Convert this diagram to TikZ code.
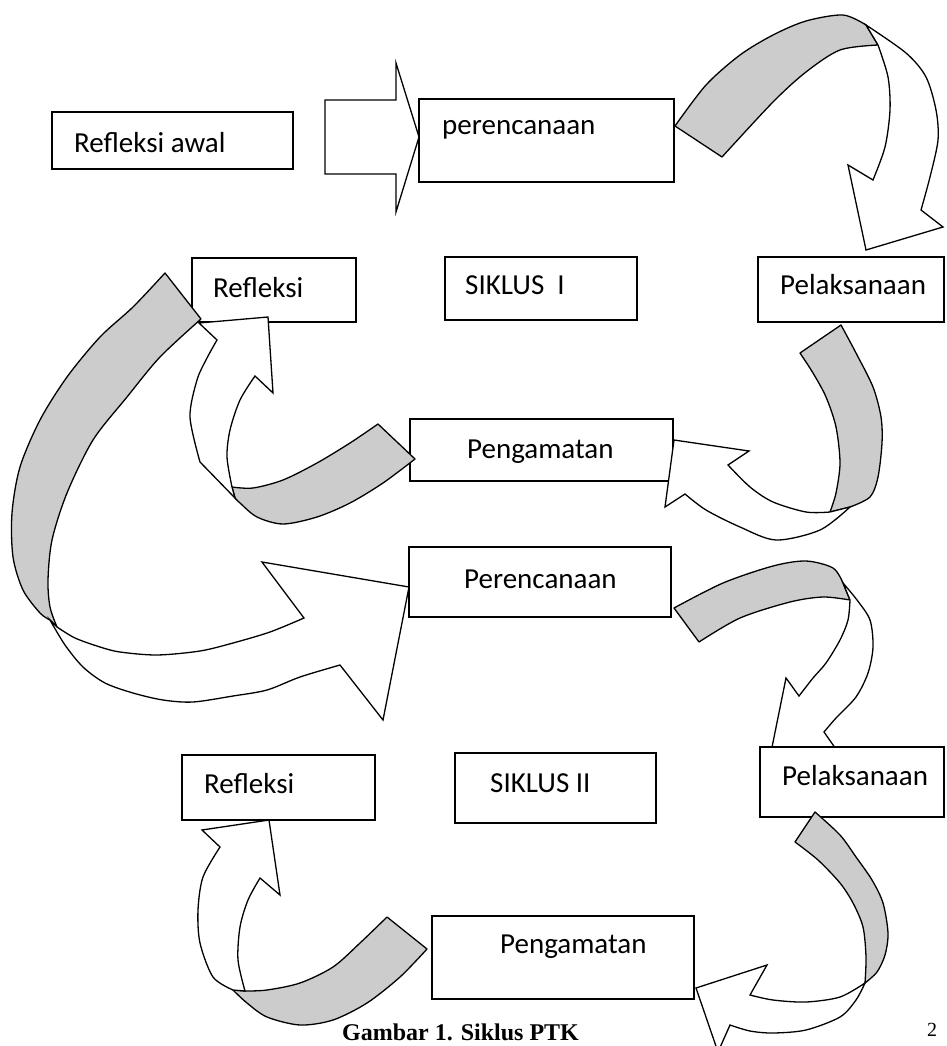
\documentclass[tikz,border=0pt]{standalone}
\usepackage{fontspec}
\newfontfamily\carl{Carlito}
\newfontfamily\capfont{Liberation Serif}
\definecolor{bandgray}{RGB}{204,204,204}
\begin{document}
\begin{tikzpicture}[x=1pt,y=-1pt,
  box/.style={draw, line width=1.3pt, fill=white, inner sep=0pt, outer sep=0pt, anchor=north west},
  lbl/.style={anchor=base west, inner sep=0pt, font=\carl\fontsize{29pt}{34pt}\selectfont},
  band/.style={draw, fill=bandgray, line width=1.3pt, line join=round},
  ribbon/.style={draw, fill=white, line width=1.3pt, line join=miter},
  captxt/.style={anchor=base west, inner sep=0pt, font=\capfont\bfseries\fontsize{24pt}{28pt}\selectfont}]
\clip (0,0) rectangle (946,1046);
\fill[white] (0,0) rectangle (946,1046);

% arrow 5 (under the Pelaksanaan II box)
\draw[band] (674,608) -- plot[smooth] coordinates {(699,642) (740,618) (790,602) (823,597) (850,600)} -- (843,583) -- plot[smooth] coordinates {(843,583) (833,568) (806,561) (773,566) (723,583) (674,608)} -- cycle;
\draw[ribbon] plot[smooth] coordinates {(843,583) (857,600) (870,620) (873,647) (868,673) (856,697) (836,718) (824,732)} -- (845,762) -- (769,762) -- (786,678) -- plot[smooth] coordinates {(799,696) (813,678) (826,663) (840,640) (848,620) (850,600)} -- cycle;

% boxes
\node[box, minimum width=241pt, minimum height=57pt] (refawal) at (52,112) {};
\node[box, minimum width=255pt, minimum height=83pt] (per1) at (419,99) {};
\node[box, minimum width=164pt, minimum height=64pt] (ref1) at (192,258) {};
\node[box, minimum width=192pt, minimum height=63pt] (sik1) at (445,257) {};
\node[box, minimum width=186pt, minimum height=65pt] (pel1) at (758,257) {};
\node[box, minimum width=263pt, minimum height=62pt] (peng1) at (410,419) {};
\node[box, minimum width=262pt, minimum height=70pt] (per2) at (409,547) {};
\node[box, minimum width=193pt, minimum height=65pt] (ref2) at (182,755) {};
\node[box, minimum width=201pt, minimum height=70pt] (sik2) at (455,753) {};
\node[box, minimum width=184pt, minimum height=70pt] (pel2) at (760,747) {};
\node[box, minimum width=262pt, minimum height=83pt] (peng2) at (432,916) {};

% labels
\node[lbl] (trefawal) at (74,152) {Refleksi awal};
\node[lbl] (tper1) at (442,135) {perencanaan};
\node[lbl] (tref1) at (213,297) {Refleksi};
\node[lbl] (tsik1) at (465,294) {SIKLUS\ \ I};
\node[lbl] (tpel1) at (780,294) {Pelaksanaan};
\node[lbl] (tpeng1) at (467,458) {Pengamatan};
\node[lbl] (tper2) at (464,588) {Perencanaan};
\node[lbl] (tref2) at (204,793) {Refleksi};
\node[lbl] (tsik2) at (490,792) {SIKLUS II};
\node[lbl] (tpel2) at (782,785) {Pelaksanaan};
\node[lbl] (tpeng2) at (500,953) {Pengamatan};

% block arrow: Refleksi awal -> perencanaan
\draw[ribbon] (325,100) -- (396,100) -- (396,63) -- (419,137) -- (396,212) -- (396,174) -- (325,174) -- cycle;

% arrow 1: perencanaan -> Pelaksanaan
\draw[band] plot[smooth] coordinates {(675,126) (706,85) (740,55) (773,35) (806,21) (843,15) (866,25)} -- (878,45) -- plot[smooth] coordinates {(878,45) (840,50) (806,72) (773,102) (722,157)} -- cycle;
\draw[ribbon] plot[smooth] coordinates {(866,25) (906,53) (926,77) (936,110) (938,140) (930,177) (921,210)} -- (943,227) -- (866,250) -- (848,165) -- plot[smooth] coordinates {(873,180) (885,147) (890,110) (888,77) (878,45)} -- cycle;

% arrow 2: Pelaksanaan -> Pengamatan
\draw[band] (800,353) -- plot[smooth] coordinates {(841,325) (856,353) (873,387) (881,417) (882,443) (878,477) (870,497) (850,507)} -- plot[smooth] coordinates {(830,512) (836,493) (840,463) (836,427) (826,397) (813,373) (800,353)} -- cycle;
\draw[ribbon] plot[smooth] coordinates {(830,512) (806,512) (773,502) (750,487) (728,465)} -- (749,451) -- (674,440) -- (665,507) -- plot[smooth] coordinates {(685,494) (706,510) (740,527) (776,540) (820,530) (850,507)} -- cycle;

% arrow 3: Pengamatan -> Refleksi
\draw[band] (378,424) -- plot[smooth] coordinates {(415,459) (383,483) (350,503) (317,517) (283,524) (257,517) (240,503) (235,498)} -- plot[smooth] coordinates {(232,487) (253,488) (283,480) (317,463) (350,443) (378,424)} -- cycle;
\draw[ribbon] (235,498) -- plot[smooth] coordinates {(200,462) (190,417) (197,380) (207,358) (217,340)} -- (199,323) -- (268,317) -- (273,393) -- plot[smooth] coordinates {(255,376) (240,400) (230,430) (227,457) (232,487)} -- cycle;

% arrow 4: Refleksi -> Perencanaan II
\draw[band] (165,273) -- plot[smooth] coordinates {(201,319) (160,357) (127,397) (93,440) (67,493) (52,540) (48,580) (50,607) (57,627)} -- plot[smooth] coordinates {(50,620) (40,613) (23,590) (13,557) (12,513) (20,467) (40,420) (67,377) (100,337) (133,307) (165,273)} -- cycle;
\draw[ribbon] plot[smooth] coordinates {(50,620) (65,645) (83,667) (105,683) (133,693) (163,700) (193,702) (233,696) (267,690) (300,677) (340,665)} -- (383,720) -- (409,587) -- (262,562) -- plot[smooth] coordinates {(304,618) (270,632) (233,643) (200,651) (157,655) (120,652) (100,647) (75,638) (57,627)} -- cycle;

% arrow 6: Pelaksanaan II -> Pengamatan II
\draw[band] (795,842) -- plot[smooth] coordinates {(815,812) (840,835) (856,857) (872,880) (883,903) (888,933) (885,955) (877,972) (865,983)} -- plot[smooth] coordinates {(865,983) (866,957) (863,927) (853,903) (840,883) (818,860) (795,842)} -- cycle;
\draw[ribbon] plot[smooth] coordinates {(865,983) (840,997) (806,1002) (773,1000) (750,995)} -- (767,965) -- (696,988) -- (718,1052) -- plot[smooth] coordinates {(730,1025) (750,1031) (773,1033) (806,1030) (840,1017) (856,1000) (865,983)} -- cycle;

% arrow 7: Pengamatan II -> Refleksi II
\draw[band] (387,917) -- plot[smooth] coordinates {(427,949) (400,977) (367,1003) (333,1020) (300,1025) (267,1017) (247,1003) (233,990)} -- plot[smooth] coordinates {(245,991) (267,990) (300,983) (333,967) (360,943) (387,917)} -- cycle;
\draw[ribbon] plot[smooth] coordinates {(233,990) (213,977) (200,943) (198,910) (203,877) (220,847)} -- (202,830) -- (269,820) -- (280,895) -- plot[smooth] coordinates {(260,878) (248,900) (240,927) (238,960) (245,991)} -- cycle;

% caption at the bottom edge
\node[captxt] (cap) at (342,1040) {Gambar 1. Siklus PTK};
\node[anchor=base west, inner sep=0pt, font=\capfont\fontsize{20pt}{22pt}\selectfont] (capnote) at (927,1036) {2};
\end{tikzpicture}
\end{document}
